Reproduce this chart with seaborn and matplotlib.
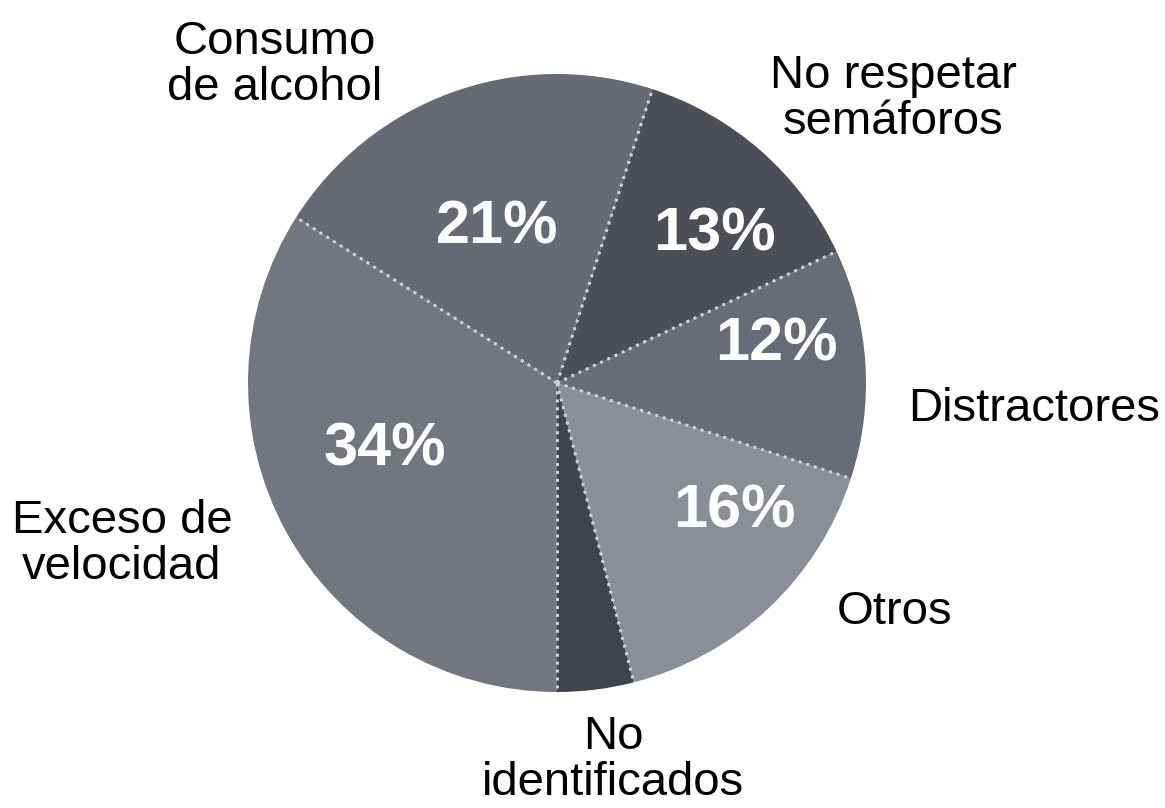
import matplotlib
matplotlib.use('Agg')
import matplotlib.pyplot as plt
import numpy as np
import seaborn as sns

sns.set_theme(style = "white")
plt.rcParams['font.family'] = ['Liberation Sans', 'DejaVu Sans']

# slices in counter-clockwise order, starting at six o'clock
categories = ['No\nidentificados', 'Otros', 'Distractores', 'No respetar\nsemáforos',
              'Consumo\nde alcohol', 'Exceso de\nvelocidad']
values = [4, 16, 12, 13, 21, 34]
pct_labels = ['', '16%', '12%', '13%', '21%', '34%']
colors = ['#40434b', '#8a8e96', '#676c76', '#4c4f58', '#656a74', '#72767f']

# label placement in pixels (layout only)
W, H = 1165, 808
cx, cy, R = 557, 383, 309
pct_pos = [None, (734, 512), (776, 345), (714, 235), (497, 228), (385, 450)]
cat_pos = [(613, 760), (895, 612), (1034, 409), (893, 99), (275, 65), (122, 544)]


def to_data(p):
    return ((p[0] - cx) / R, (cy - p[1]) / R)


fig = plt.figure(figsize = (W / 100, H / 100), dpi = 100)
ax = fig.add_axes([0, 0, 1, 1])
wedges, _ = ax.pie(values, colors = colors, startangle = -90, counterclock = True,
                   radius = 1, wedgeprops = dict(linewidth = 0))

# dotted radial separators taken from the wedge angles
for w in wedges:
    a = np.deg2rad(w.theta1)
    ax.plot([0, np.cos(a)], [0, np.sin(a)], color = '#cfd1d6',
            linestyle = (0, (1, 1.6)), linewidth = 2.2, solid_capstyle = 'round')

for lab, pos in zip(pct_labels, pct_pos):
    if pos is None:
        continue
    x, y = to_data(pos)
    ax.text(x, y, lab, color = 'white', fontsize = 44, fontweight = 'bold',
            ha = 'center', va = 'center')

for lab, pos in zip(categories, cat_pos):
    x, y = to_data(pos)
    ax.text(x, y, lab, color = 'black', fontsize = 34, ha = 'center', va = 'center',
            linespacing = 1.05, multialignment = 'center')

ax.set_xlim(-cx / R, (W - cx) / R)
ax.set_ylim(-(H - cy) / R, cy / R)
ax.set_aspect('auto')
ax.axis('off')

plt.savefig("out.png", dpi = 100)
